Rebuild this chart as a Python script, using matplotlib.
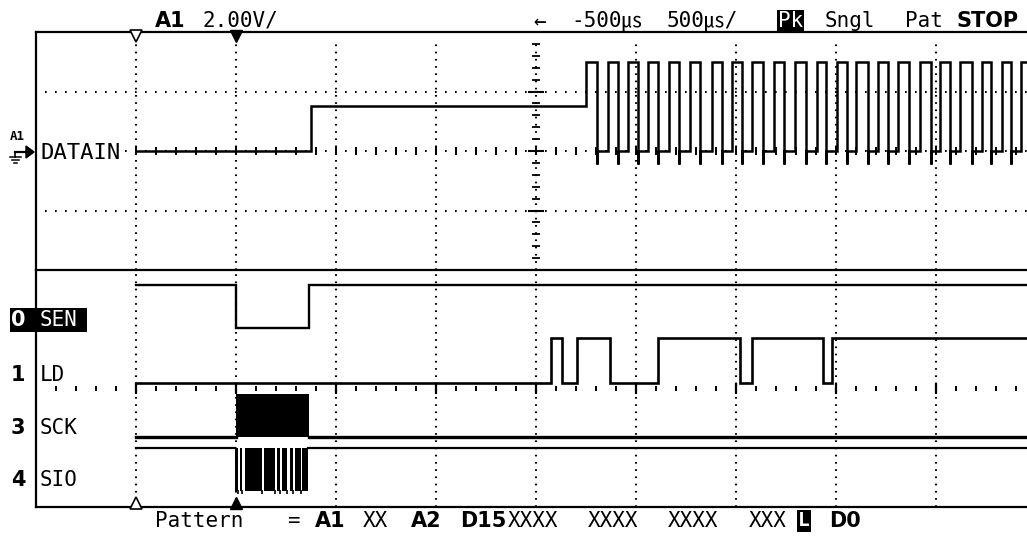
import matplotlib
matplotlib.use("Agg")
import matplotlib.pyplot as plt
from matplotlib.lines import Line2D
from matplotlib.patches import Rectangle, Polygon
import numpy as np

plt.rcParams['lines.scale_dashes'] = False
plt.rcParams['font.family'] = ['DejaVu Sans Mono', 'Noto Sans CJK JP']

W, H, DPI = 1027, 536, 100

# ---------------- data ----------------
# time in µs (0 = trigger), 500 µs/div
t_span = (-1000, 4000)
grid_times = [-500, 0, 500, 1000, 1500, 2000, 2500, 3000, 3500]
center_time = 1500

# analog channel A1 "DATAIN" (volts, 2 V/div)
datain_start = -500
datain_step_time = 375
datain_pre_levels = [0.0, 1.5]
datain_high = 3.0
datain_low = 0.0
datain_glitch = -0.45
datain_rise = [1748, 1858, 1958, 2058, 2166, 2270, 2378, 2478, 2578, 2690, 2795,
               2903, 3003, 3100, 3211, 3311, 3420, 3520, 3620, 3728, 3828, 3923]
datain_fall = [1805, 1908, 2011, 2111, 2216, 2320, 2428, 2528, 2636, 2741, 2848,
               2950, 3053, 3161, 3261, 3366, 3473, 3570, 3678, 3773, 3873, 3975]

# digital channels (logic levels)
channel_names = ["SEN", "LD", "SCK", "SIO"]
channel_numbers = ["0", "1", "3", "4"]
sen_t = [-500, 0, 365]
sen_v = [1, 0, 1]
ld_t = [-500, 1575, 1630, 1705, 1870, 2110, 2520, 2580, 2935, 2980]
ld_v = [0, 1, 0, 1, 0, 1, 0, 1, 0, 1]
sck_t = [-500]
sck_v = [0]
sck_burst = (0, 365)
sio_t = [-500]
sio_v = [1]
sio_on = [-5, 20, 45, 140, 205, 230, 270, 295, 330]
sio_off = [10, 30, 130, 195, 220, 255, 285, 325, 360]

header_left = ["A1", "2.00V/"]
header_right = ["←", "-500㎲", "500㎲/", "Pk", "Sngl", "Pat", "STOP"]
pattern_tokens = ["Pattern", "=", "A1", "XX", "A2", "D15", "XXXX", "XXXX", "XXXX", "XXX", "L", "D0"]

# ---------------- layout helpers ----------------
def fx(px):
    return px / W

def fy(py):
    return 1 - py / H

fig = plt.figure(figsize=(W / DPI, H / DPI), dpi=DPI)
fig.patch.set_facecolor("white")

FRAME_L, FRAME_T, SEP, FRAME_B = 36, 32, 270, 507
ax_a = fig.add_axes([fx(FRAME_L), fy(SEP), 1000 / W, (SEP - FRAME_T) / H])
ax_d = fig.add_axes([fx(FRAME_L), fy(FRAME_B), 1000 / W, (FRAME_B - SEP) / H])

for ax in (ax_a, ax_d):
    ax.set_xlim(*t_span)
    ax.set_xticks([])
    ax.set_yticks([])
    ax.set_facecolor("none")
    for s in ax.spines.values():
        s.set_linewidth(1.6)
        s.set_color("black")
    ax.spines["right"].set_visible(False)
ax_d.spines["top"].set_visible(False)
ax_a.set_ylim(-4, 4)
ax_d.set_ylim(0, 4)

dot_v = dict(color="black", lw=1.5, linestyle=(0, (1.2, 4.0)), zorder=1)
dot_h = dict(color="black", lw=1.5, linestyle=(0, (1.2, 6.0)), zorder=1)

# ---- analog grid ----
for t in grid_times:
    ax_a.axvline(t, ymin=0, ymax=0.958, **dot_v)
for v in (-2, 2, 0):
    ax_a.axhline(v, xmin=0.009, **dot_h)
# center axes ticks
tick_t = np.arange(-500, 4001, 100)
ax_a.vlines(tick_t, -0.12, 0.12, color="black", lw=1.4, zorder=1)
vt = np.arange(-3.6, 3.61, 0.4)
ax_a.hlines(vt, center_time - 18, center_time + 18, color="black", lw=1.3, zorder=1)
ax_a.hlines([-2, 0, 2], center_time - 38, center_time + 38, color="black", lw=1.5, zorder=1)

# ---- analog trace ----
xs = [datain_start, datain_step_time, datain_step_time]
ys = [datain_pre_levels[0], datain_pre_levels[0], datain_pre_levels[1]]
prev = datain_pre_levels[1]
for r, f in zip(datain_rise, datain_fall):
    xs += [r, r, f, f, f]
    ys += [prev, datain_high, datain_high, datain_glitch, datain_low]
    prev = datain_low
xs.append(t_span[1])
ys.append(prev)
ax_a.plot(xs, ys, color="black", lw=1.8, zorder=3, solid_joinstyle="miter")

# ---- digital grid ----
for t in grid_times:
    ax_d.axvline(t, **dot_v)
dtick = np.arange(-900, 4001, 100)
ax_d.vlines(dtick, 1.96, 2.04, color="black", lw=1.4, zorder=1)
ax_d.vlines(grid_times, 1.91, 2.09, color="black", lw=1.6, zorder=1)

lane_low = [3.02, 2.09, 1.18, 0.27]
lane_swing = [0.73, 0.76, 0.73, 0.73]
lane_lw = [1.7, 1.9, 2.4, 1.6]


def step_xy(ts, vs, t_end):
    x, y = [], []
    for i, (t, v) in enumerate(zip(ts, vs)):
        if i > 0:
            x.append(t)
            y.append(vs[i - 1])
        x.append(t)
        y.append(v)
    x.append(t_end)
    y.append(vs[-1])
    return np.array(x), np.array(y, dtype=float)

# SEN and LD
for k, (ts, vs) in enumerate([(sen_t, sen_v), (ld_t, ld_v)]):
    x, y = step_xy(ts, vs, t_span[1])
    ax_d.plot(x, lane_low[k] + y * lane_swing[k], color="black", lw=lane_lw[k],
              zorder=3, solid_joinstyle="miter")

# SCK: idle line with dense clock burst
k = 2
lvl = lane_low[k] + sck_v[0] * lane_swing[k]
ax_d.plot([sck_t[0], sck_burst[0]], [lvl, lvl], color="black", lw=lane_lw[k], zorder=3)
ax_d.plot([sck_burst[1], t_span[1]], [lvl, lvl], color="black", lw=lane_lw[k], zorder=3)
ax_d.fill_between(list(sck_burst), lane_low[k], lane_low[k] + lane_swing[k],
                  color="black", lw=0, zorder=3)

# SIO: idle high line with data burst
k = 3
hi = lane_low[k] + sio_v[0] * lane_swing[k]
ax_d.plot([sio_t[0], sio_on[0]], [hi, hi], color="black", lw=lane_lw[k], zorder=3)
ax_d.plot([sio_off[-1], t_span[1]], [hi, hi], color="black", lw=lane_lw[k], zorder=3)
for a, b in zip(sio_on, sio_off):
    ax_d.fill_between([a, b], lane_low[k], hi, color="black", lw=0, zorder=3)
ax_d.vlines(sio_off[:-1], lane_low[k] - 0.05, lane_low[k] + 0.02, color="black", lw=1.2, zorder=3)

# ---- markers (trigger / reference) ----
ax_a.plot([grid_times[0]], [3.85], marker="v", ms=9, mfc="white", mec="black", mew=1.2,
          clip_on=False, zorder=5)
ax_a.plot([grid_times[1]], [3.85], marker="v", ms=9, mfc="black", mec="black",
          clip_on=False, zorder=5)
ax_d.plot([grid_times[0]], [0.07], marker="^", ms=9, mfc="white", mec="black", mew=1.2,
          clip_on=False, zorder=5)
ax_d.plot([grid_times[1]], [0.07], marker="^", ms=9, mfc="black", mec="black",
          clip_on=False, zorder=5)

# ---------------- texts ----------------
FS = 15
BOLD = dict(family="DejaVu Sans", weight="bold")


def ftext(px, py, s, ha="left", va="center", **kw):
    kw.setdefault("fontsize", FS)
    return fig.text(fx(px), fy(py), s, ha=ha, va=va, zorder=6, **kw)

# header
ftext(155, 21, header_left[0], fontsize=15, **BOLD)
ftext(203, 21, header_left[1])
ftext(533, 21, header_right[0])
ftext(571, 21, header_right[1])
ftext(666, 21, header_right[2])
ftext(778, 21, header_right[3], color="white",
      bbox=dict(facecolor="black", edgecolor="none", pad=0.8))
ftext(825, 21, header_right[4])
ftext(905, 21, header_right[5])
ftext(956, 21, header_right[6], fontsize=15, **BOLD)

# channel A1 label with ground/arrow symbol
ftext(10, 136, "A1", fontsize=9, weight="bold")
fig.add_artist(Line2D([fx(15), fx(28)], [fy(152), fy(152)], color="black", lw=1.6))
fig.add_artist(Polygon([(fx(26), fy(146)), (fx(34), fy(152)), (fx(26), fy(158))],
                       closed=True, facecolor="black", edgecolor="black"))
fig.add_artist(Line2D([fx(15), fx(15)], [fy(152), fy(157)], color="black", lw=1.2))
for yy_, x0, x1 in [(157, 10, 21), (160, 12, 19), (163, 14, 17)]:
    fig.add_artist(Line2D([fx(x0), fx(x1)], [fy(yy_), fy(yy_)], color="black", lw=1.1))
ftext(40, 153, "DATAIN", fontsize=FS + 1,
      bbox=dict(facecolor="white", edgecolor="none", pad=0.5))

# digital labels
label_y = [320, 375, 428, 480]
rect = Rectangle((fx(10), fy(332)), fx(87) - fx(10), (332 - 308) / H,
                 transform=fig.transFigure, facecolor="black", edgecolor="none", zorder=5)
fig.add_artist(rect)
for i, (num, name) in enumerate(zip(channel_numbers, channel_names)):
    col = "white" if i == 0 else "black"
    ftext(11, label_y[i], num, fontsize=15, color=col, **BOLD)
    ftext(40, label_y[i], name, color=col)

# bottom pattern line
pat_x = [155, 287, 315, 363, 411, 460, 508, 588, 668, 749, 798, 829]
pat_bold = [False, False, True, False, True, True, False, False, False, False, False, True]
for px, tok, b in zip(pat_x, pattern_tokens, pat_bold):
    if tok == "L":
        ftext(px, 521, tok, fontsize=14, color="white", weight="bold",
              bbox=dict(facecolor="black", edgecolor="none", pad=0.8))
    elif b:
        ftext(px, 521, tok, fontsize=15, **BOLD)
    else:
        ftext(px, 521, tok)

fig.savefig("out.png", dpi=DPI, facecolor="white")
